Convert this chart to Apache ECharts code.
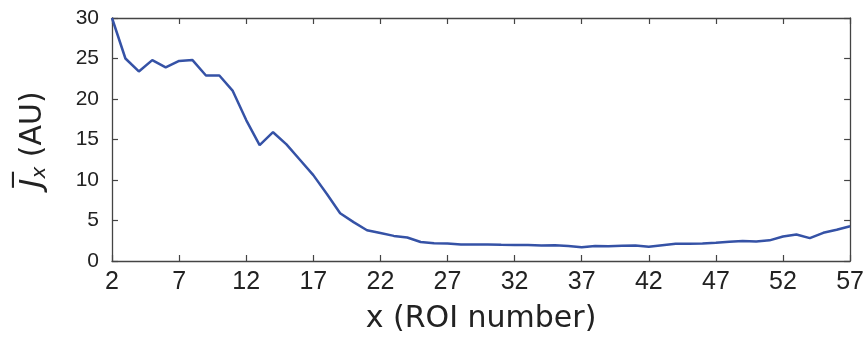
<!DOCTYPE html>
<html>
<head>
<meta charset="utf-8">
<script src="https://cdn.jsdelivr.net/npm/echarts@6/dist/echarts.min.js"></script>
<style>
  html, body { margin: 0; padding: 0; background: #fff; }
  #chart { width: 867px; height: 339px; }
</style>
</head>
<body>
<div id="chart"></div>
<script>
// ROI index along x
const roiNumbers = [];
for (let i = 2; i <= 57; i++) roiNumbers.push(String(i));

// Mean current density J̄x per ROI (arbitrary units)
const meanJx = [
  30.0, 25.0, 23.4, 24.8, 23.9, 24.7, 24.8, 22.9, 22.9, 21.0,
  17.4, 14.3, 15.9, 14.4, 12.5, 10.6, 8.3, 5.9, 4.8, 3.8,
  3.45, 3.1, 2.9, 2.35, 2.2, 2.17, 2.05, 2.05, 2.03, 2.0,
  1.98, 1.97, 1.92, 1.93, 1.85, 1.7, 1.85, 1.82, 1.87, 1.9,
  1.75, 1.95, 2.12, 2.13, 2.17, 2.25, 2.37, 2.46, 2.42, 2.55,
  3.03, 3.28, 2.82, 3.48, 3.85, 4.3
];

// Shown tick labels on x (every fifth ROI starting at 2)
const xTickLabels = ['2', '7', '12', '17', '22', '27', '32', '37', '42', '47', '52', '57'];
const yTicks = { min: 0, max: 30, step: 5 };

const frameColor = '#444';
const lineColor = '#3552a6';
const font = 'Liberation Sans, Arial, sans-serif';
const titleFont = 'DejaVu Sans, Liberation Sans, sans-serif';

const chart = echarts.init(document.getElementById('chart'), null, { renderer: 'canvas' });

const frameAxisLine = { show: true, onZero: false, lineStyle: { color: frameColor, width: 1.3 } };
const innerTick = { show: true, inside: true, length: 6, lineStyle: { color: frameColor, width: 1.2 } };

chart.setOption({
  animation: false,
  backgroundColor: '#fff',
  grid: { left: 112, right: 15, top: 18, bottom: 77, containLabel: false },
  xAxis: [
    {
      type: 'category',
      data: roiNumbers,
      boundaryGap: false,
      axisLine: frameAxisLine,
      axisTick: Object.assign({ interval: 4 }, innerTick),
      axisLabel: {
        interval: (idx, val) => xTickLabels.includes(val),
        color: '#222', fontSize: 25, fontFamily: font, margin: 9
      },
      splitLine: { show: false },
      name: 'x (ROI number)',
      nameLocation: 'middle',
      nameGap: 43,
      nameTextStyle: { color: '#222', fontSize: 30, fontFamily: titleFont }
    },
    {
      type: 'category',
      data: roiNumbers,
      boundaryGap: false,
      position: 'top',
      axisLine: frameAxisLine,
      axisTick: Object.assign({ interval: 4 }, innerTick),
      axisLabel: { show: false },
      splitLine: { show: false }
    }
  ],
  yAxis: [
    {
      type: 'value',
      min: yTicks.min, max: yTicks.max, interval: yTicks.step,
      axisLine: frameAxisLine,
      axisTick: innerTick,
      axisLabel: { color: '#222', fontSize: 21, fontFamily: font, margin: 13 },
      splitLine: { show: false },
      name: '{j|J\u0305}{sub|x}{p| (AU)}',
      nameLocation: 'middle',
      nameGap: 62,
      nameRotate: 90,
      nameTextStyle: {
        color: '#222', fontSize: 30, fontFamily: titleFont,
        rich: {
          j: { fontSize: 31, fontStyle: 'italic', fontFamily: titleFont, color: '#222' },
          sub: { fontSize: 20, fontStyle: 'italic', fontFamily: titleFont, color: '#222', verticalAlign: 'bottom', padding: [14, 0, 0, 0] },
          p: { fontSize: 30, fontFamily: titleFont, color: '#222' }
        }
      }
    },
    {
      type: 'value',
      position: 'right',
      min: yTicks.min, max: yTicks.max, interval: yTicks.step,
      axisLine: frameAxisLine,
      axisTick: innerTick,
      axisLabel: { show: false },
      splitLine: { show: false }
    }
  ],
  series: [
    {
      type: 'line',
      data: meanJx,
      xAxisIndex: 0,
      yAxisIndex: 0,
      showSymbol: false,
      symbol: 'none',
      lineStyle: { color: lineColor, width: 2.5 },
      clip: false
    }
  ]
});
</script>
</body>
</html>
